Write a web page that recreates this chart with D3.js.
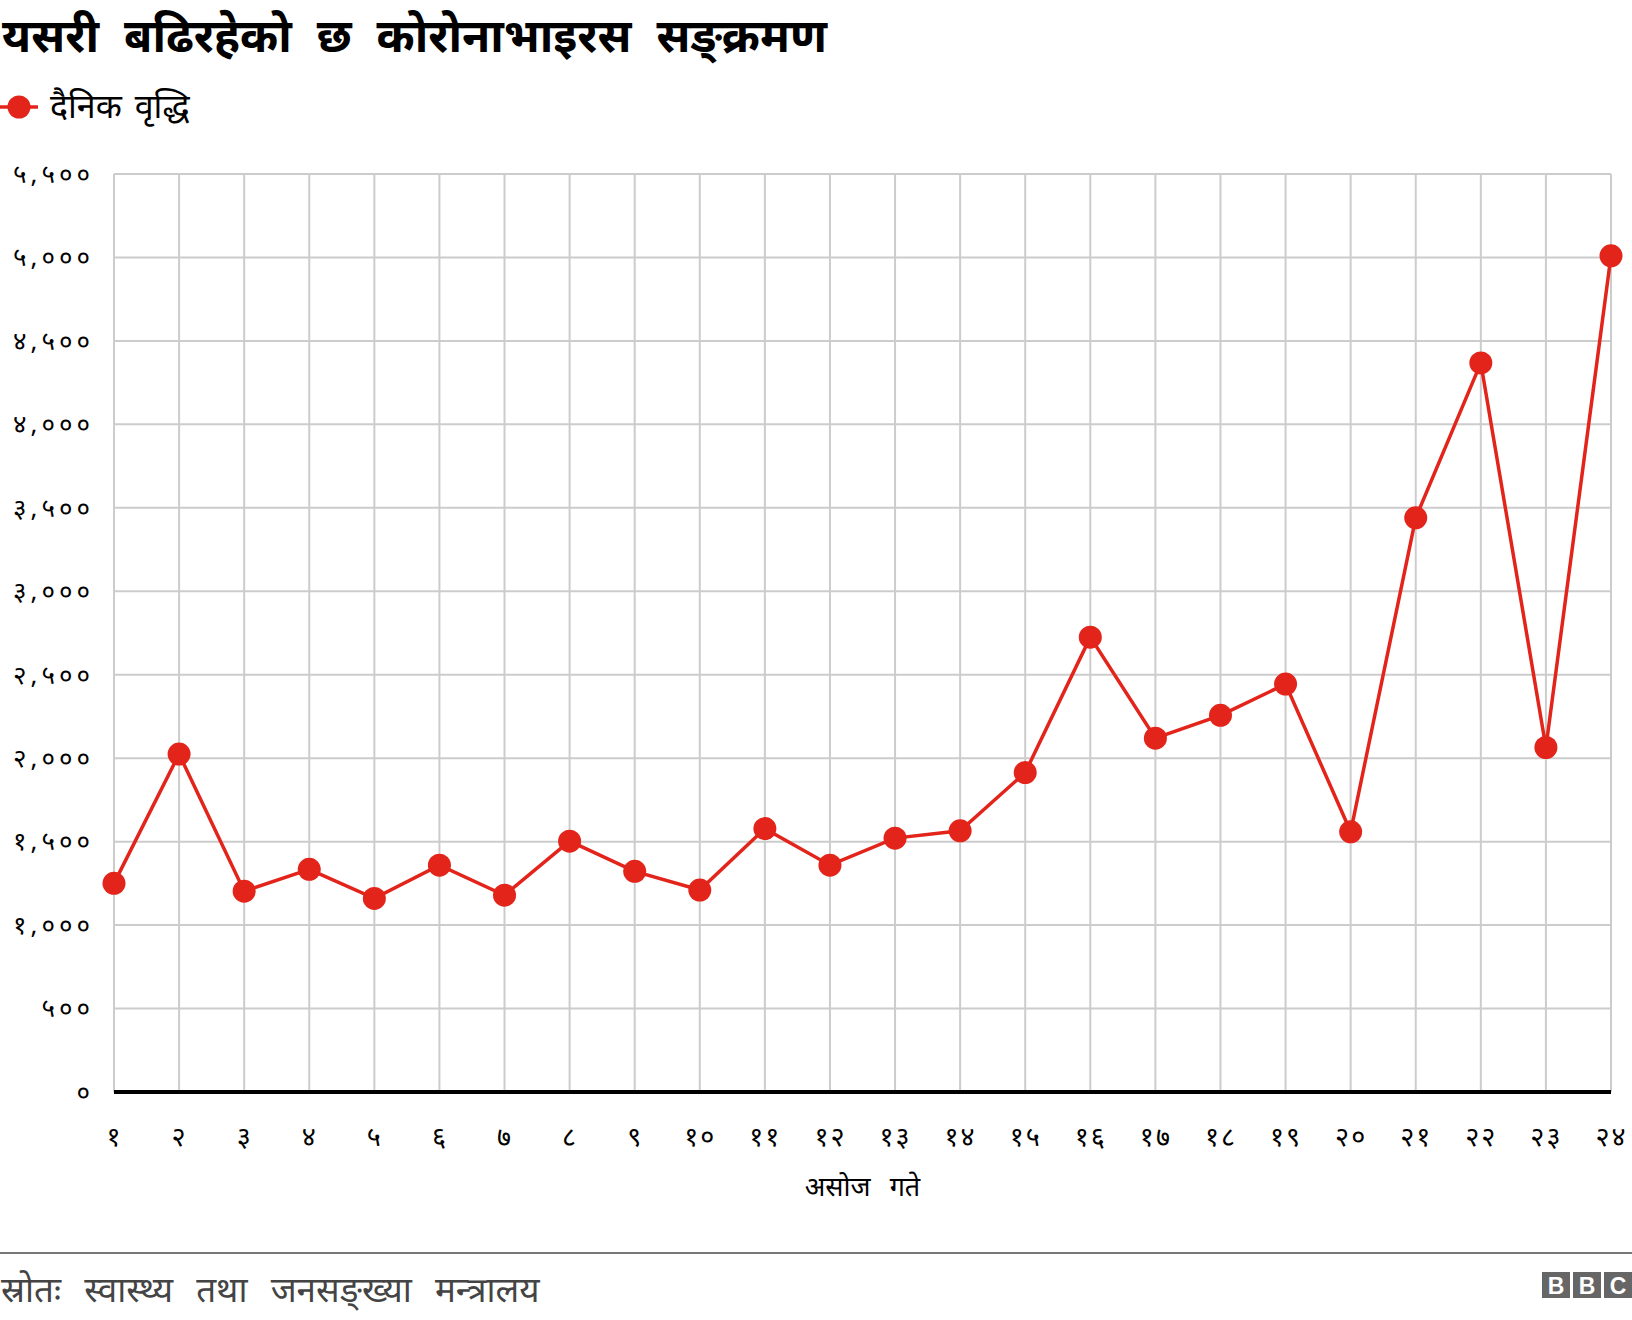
<!DOCTYPE html>
<html>
<head>
<meta charset="utf-8">
<script src="https://cdn.jsdelivr.net/npm/d3@7"></script>
<style>
  body { margin: 0; background: #fff; }
  svg text { font-family: "Noto Sans", "Noto Sans Devanagari", sans-serif; fill: #000; }
</style>
</head>
<body>
<div id="chart"></div>
<script>
// days of Asoj (x categories)
const days = ["१", "२", "३", "४", "५", "६", "७", "८", "९", "१०", "११", "१२",
    "१३", "१४", "१५", "१६", "१७", "१८", "१९", "२०", "२१", "२२", "२३", "२४"];
// daily new cases
const dailyCases = [1250, 2025, 1203, 1334, 1160, 1359, 1179, 1503, 1322, 1210, 1578, 1359,
    1521, 1565, 1914, 2725, 2120, 2257, 2444, 1559, 3440, 4368, 2064, 5010];
const yTicks = [0, 500, 1000, 1500, 2000, 2500, 3000, 3500, 4000, 4500, 5000, 5500];

const titleText = "यसरी बढिरहेको छ कोरोनाभाइरस सङ्क्रमण";
const legendText = "दैनिक वृद्धि";
const xTitle = "असोज गते";
const sourceText = "स्रोतः स्वास्थ्य तथा जनसङ्ख्या मन्त्रालय";

const width = 1632, height = 1320;
const margin = {top: 174, right: 21, bottom: 228, left: 114};

// convert ascii digits to devanagari, with comma grouping
const devDigits = "०१२३४५६७८९";
function toDev(n) {
    return d3.format(",")(n).replace(/[0-9]/g, d => devDigits[+d]);
}

let svg = d3.select("#chart").append("svg")
    .attr("width", width)
    .attr("height", height);

let x = d3.scalePoint()
    .domain(days)
    .range([margin.left, width - margin.right]);

let y = d3.scaleLinear()
    .domain([0, 5500])
    .range([height - margin.bottom, margin.top]);

// title
svg.append("text")
    .attr("x", 2)
    .attr("y", 52)
    .style("font-size", "46px")
    .style("font-weight", "bold")
    .style("word-spacing", "13px")
    .text(titleText);

// legend
let legend = svg.append("g").attr("transform", "translate(0,107)");
legend.append("line")
    .attr("x1", 0).attr("x2", 38)
    .attr("stroke", "#e3241b").attr("stroke-width", 3.5);
legend.append("circle")
    .attr("cx", 19).attr("r", 11.5)
    .attr("fill", "#e3241b");
legend.append("text")
    .attr("x", 50).attr("y", 11)
    .style("font-size", "34px")
    .style("word-spacing", "4px")
    .text(legendText);

// grid
let grid = svg.append("g").attr("class", "grid");
grid.selectAll(".hgrid").data(yTicks.filter(d => d > 0)).enter()
    .append("line")
    .attr("x1", margin.left).attr("x2", width - margin.right)
    .attr("y1", d => y(d)).attr("y2", d => y(d))
    .attr("stroke", "#cccccc").attr("stroke-width", 2);
grid.selectAll(".vgrid").data(days).enter()
    .append("line")
    .attr("x1", d => x(d)).attr("x2", d => x(d))
    .attr("y1", y(5500)).attr("y2", y(0))
    .attr("stroke", "#cccccc").attr("stroke-width", 2);

// y axis labels
let yAxis = svg.append("g")
    .attr("transform", "translate(" + margin.left + ",0)")
    .call(d3.axisLeft(y).tickValues(yTicks).tickSize(0).tickPadding(20).tickFormat(toDev));
yAxis.select(".domain").remove();
yAxis.selectAll("text")
    .style("font-size", "26px")
    .style("letter-spacing", "4px")
    .style("font-family", null);

// x axis labels
let xAxis = svg.append("g")
    .attr("transform", "translate(0," + y(0) + ")")
    .call(d3.axisBottom(x).tickSize(0).tickPadding(35));
xAxis.select(".domain").remove();
xAxis.selectAll("text")
    .style("font-size", "27px")
    .style("letter-spacing", "2px")
    .style("font-family", null);

// baseline
svg.append("line")
    .attr("x1", margin.left).attr("x2", width - margin.right)
    .attr("y1", y(0)).attr("y2", y(0))
    .attr("stroke", "#000").attr("stroke-width", 4);

// x title
svg.append("text")
    .attr("x", (margin.left + width - margin.right) / 2)
    .attr("y", 1196)
    .attr("text-anchor", "middle")
    .style("font-size", "27px")
    .style("word-spacing", "12px")
    .text(xTitle);

// series line + dots
let line = d3.line()
    .x((d, i) => x(days[i]))
    .y(d => y(d));

svg.append("path")
    .datum(dailyCases)
    .attr("d", line)
    .attr("fill", "none")
    .attr("stroke", "#e3241b")
    .attr("stroke-width", 3.5);

svg.selectAll(".dot").data(dailyCases).enter()
    .append("circle")
    .attr("cx", (d, i) => x(days[i]))
    .attr("cy", d => y(d))
    .attr("r", 11.5)
    .attr("fill", "#e3241b");

// footer
svg.append("line")
    .attr("x1", 0).attr("x2", width)
    .attr("y1", 1253).attr("y2", 1253)
    .attr("stroke", "#777").attr("stroke-width", 2);

svg.append("text")
    .attr("x", 1)
    .attr("y", 1302)
    .style("font-size", "35px")
    .style("word-spacing", "14px")
    .style("fill", "#444")
    .text(sourceText);

// BBC blocks
let bbc = svg.append("g").attr("transform", "translate(1542,1272)");
["B", "B", "C"].forEach((ch, i) => {
    bbc.append("rect")
        .attr("x", i * 31).attr("width", 28).attr("height", 26)
        .attr("fill", "#666");
    bbc.append("text")
        .attr("x", i * 31 + 14).attr("y", 22)
        .attr("text-anchor", "middle")
        .style("font-size", "23px")
        .style("font-weight", "bold")
        .style("fill", "#fff")
        .style("font-family", "Arial, 'Liberation Sans', sans-serif")
        .text(ch);
});
</script>
</body>
</html>
